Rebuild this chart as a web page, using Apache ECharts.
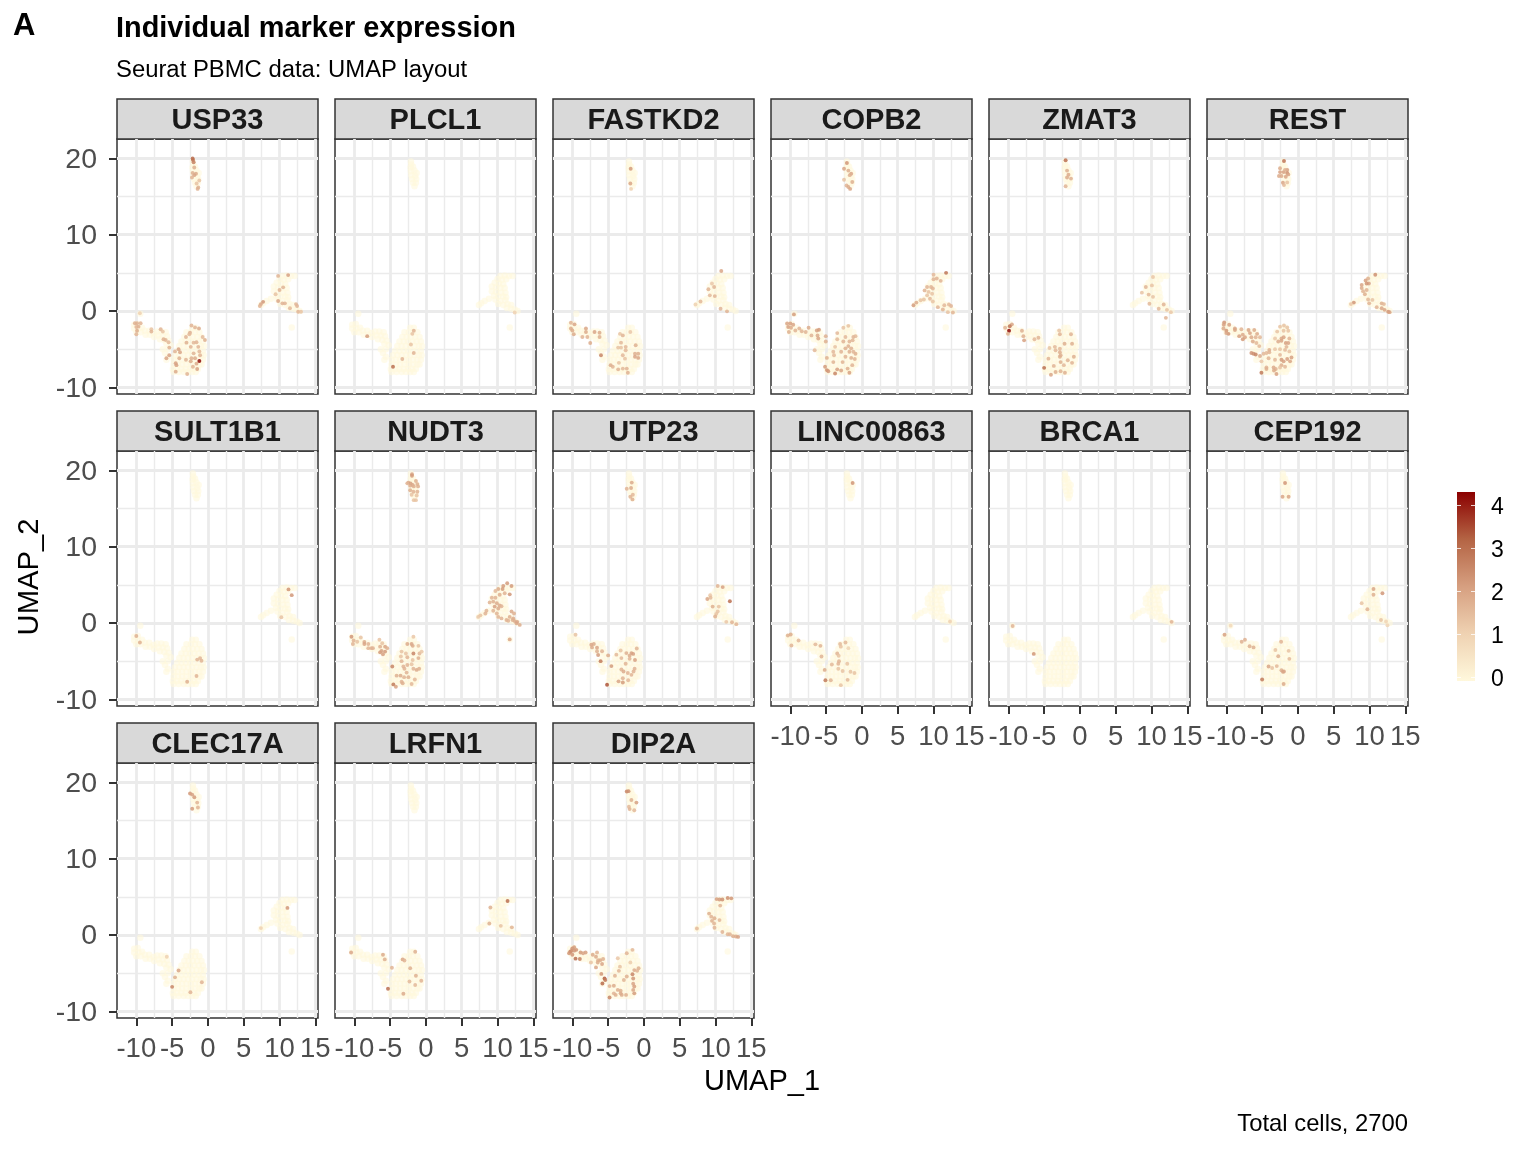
<!DOCTYPE html>
<html>
<head>
<meta charset="utf-8">
<title>Individual marker expression</title>
<script src="https://cdn.jsdelivr.net/npm/echarts@6/dist/echarts.min.js"></script>
<style>
  html, body { margin: 0; background: #fff; }
  #chart { width: 1536px; height: 1152px; }
</style>
</head>
<body>
<div id="chart"></div>
<script>
// every cell of the UMAP layout, drawn pale under each panel
const cellsAll = [
  [-2.1,19.6],[-2.05,19.2],[-2.15,18.8],[-1.8,18.9],[-2.1,18.3],[-1.6,18.4],[-1.3,18.1],[-2.05,17.8],[-1.5,17.7],[-1.35,17.3],[-1.95,17.3],[-1.8,16.8],[-1.4,16.8],[-1.6,16.35],
  [10.4,4.6],[11,4.65],[11.6,4.6],[12.1,4.6],[10,4.2],[10.6,4.1],[11.2,4.15],[9.6,3.7],[10.2,3.6],[10.8,3.5],[9.2,3.2],[9.8,3.1],[10.4,3],[11,3],[9.2,2.6],[9.8,2.5],[10.5,2.4],[11.1,2.4],[9.5,2],[10.1,1.9],[10.8,1.9],[11.2,1.8],[8.8,1.6],[9.7,1.5],[10.4,1.3],[11.1,1.4],[8.2,1.3],[7.7,1],[7.4,.8],[10.1,.9],[10.8,.8],[11.4,.9],[11.9,.8],[11.3,.4],[11.9,.3],[12.4,.2],[12.8,0],[11.7,-2.15],
  [-9.45,-.35],[-10.3,-1.8],[-9.8,-1.7],[-10.3,-2.3],[-9.7,-2.3],[-9.2,-2.2],[-10,-2.8],[-9.4,-2.8],[-8.8,-2.6],[-8.2,-2.6],[-8.7,-3.1],[-8.1,-3.1],[-7.6,-2.9],[-7.1,-2.7],[-6.5,-2.7],[-5.9,-2.8],[-7.5,-3.4],[-6.9,-3.2],[-6.3,-3.2],[-5.7,-3.3],[-6.7,-3.7],[-6.1,-3.8],[-5.5,-3.9],[-5.8,-4.3],[-5.2,-4.5],[-6.3,-5],[-6,-5.5],[-5.6,-5],[-5.6,-6],[-5.8,-6.4],
  [-2.2,-2.2],[-1.7,-2.2],
  [-3,-2.8],[-2.4,-2.8],[-1.8,-2.8],[-1.2,-2.8],
  [-3.3,-3.4],[-2.7,-3.4],[-2.1,-3.4],[-1.5,-3.4],[-.9,-3.4],
  [-3.7,-4],[-3.1,-4],[-2.5,-4],[-1.9,-4],[-1.3,-4],[-.7,-4],
  [-4,-4.6],[-3.4,-4.6],[-2.8,-4.6],[-2.2,-4.6],[-1.6,-4.6],[-1,-4.6],[-.55,-4.6],
  [-4.3,-5.2],[-3.7,-5.2],[-3.1,-5.2],[-2.5,-5.2],[-1.9,-5.2],[-1.3,-5.2],[-.7,-5.2],
  [-4.6,-5.8],[-4,-5.8],[-3.4,-5.8],[-2.8,-5.8],[-2.2,-5.8],[-1.6,-5.8],[-1,-5.8],[-.6,-5.8],
  [-4.8,-6.4],[-4.2,-6.4],[-3.6,-6.4],[-3,-6.4],[-2.4,-6.4],[-1.8,-6.4],[-1.2,-6.4],[-.7,-6.4],
  [-4.8,-7],[-4.2,-7],[-3.6,-7],[-3,-7],[-2.4,-7],[-1.8,-7],[-1.2,-7],[-.9,-7],
  [-4.9,-7.6],[-4.3,-7.6],[-3.7,-7.6],[-3.1,-7.6],[-2.5,-7.6],[-1.9,-7.6],[-1.4,-7.6],
  [-4.8,-8],[-4.1,-8],[-3.4,-8],[-2.8,-8],[-2.2,-8],[-1.7,-8]
]

// expressing cells per gene: [UMAP_1, UMAP_2, expression]
const usp33 = [
  [-2.14,20,3.1],[-2.09,19.8,3],[-2,19.5,2.7],[-1.91,18.8,1.8],[-2.14,18.1,1.8],[-1.67,18,1.9],[-1.91,17.8,2],[-2.23,17.5,1.7],[-1.21,17.1,1.4],[-1.58,16.7,1.4],[-1.35,16.2,1.8],[-1.44,16,1.8],
  [-9.5,-.3,1.1],[-10.2,-1.6,1.8],[-9.9,-1.6,1.8],[-9.4,-1.6,1.7],[-9.7,-2.05,1.8],[-10,-2.1,1.7],[-9.9,-2.6,1.9],[-10,-3.05,1.7],[-7.9,-2.4,1.4],[-7.9,-2.7,1.7],[-6.6,-2.4,1.7],[-6.3,-2.7,1.4],[-6.2,-3.7,1.8],[-5.9,-3.8,1.7],[-5.5,-4.1,1.6],[-5.4,-4.8,1.8],[-5.4,-5.8,2.1],[-5.8,-6.2,2],
  [-2.3,-1.9,1.7],[-1.8,-2.15,1.7],[-1.25,-2.3,1.9],[-2.5,-2.85,1.8],[-3.07,-3.4,1.7],[-2.6,-3.05,1.6],[-.74,-3.4,1.6],[-.42,-3.8,1.8],[-3,-4.15,1.8],[-2,-4.15,1.6],[-1.6,-4.1,1.7],[-2.4,-4.7,1.7],[-1.35,-4.7,1.7],[-4.1,-5,2.1],[-3.9,-5.4,2],[-4.6,-5.3,1.7],[-1.2,-5.3,1.6],[-2,-5.55,1.7],[-4,-6.2,1.8],[-3.07,-6.4,1.7],[-2.3,-6.2,1.8],[-1.8,-6.2,1.9],[-1.1,-5.8,1.7],[-4.5,-6.85,2.1],[-4.4,-7.1,2.1],[-2.4,-6.6,1.9],[-1.6,-6.9,1.9],[-1.2,-6.55,4.2],[-1.5,-7.6,2.1],[-4.5,-7.95,1.9],[-2.9,-8.25,1.7],[-2.1,-7.3,1.7],
  [7.7,1.2,2.3],[7.4,.9,2],[7.25,.65,1.7],[9.8,4.6,1.7],[11.2,4.7,2.1],[10.5,3.1,1.7],[10,2.75,1.7],[9.45,2.2,1.4],[9.8,1.3,2],[10.4,1,1.7],[10.75,1,1.7],[11.45,.35,1.6],[12.3,.9,1.7],[12.45,.65,1.7],[12.6,-.1,1.7],[13,-.1,1.4]
]
const plcl1 = [[-1.7,-2.6,1.7],[-1.9,-3,1.4],[-2.1,-4.4,1.4],[-1.7,-5.5,1.7],[-3.3,-6.3,1.7],[-4.6,-7.3,3],[-8.2,-3.3,2.2],[12.4,-.2,1.1]]
const fastkd2 = [
  [-1.85,18.65,2.2],[-1.9,16.7,2],[-1.8,16,1.1],[10.8,5.25,2],[9.5,3.6,1.3],[9.8,3.15,1.7],[9,2.85,1.7],[9.2,2.05,1.6],[9.9,1.95,1.7],[7.9,1.25,1.6],[7.2,.85,1.1],[10.7,.3,1.7],[11.6,-.05,1.7],
  [-10.2,-1.55,1.7],[-9.7,-1.75,2],[-10.2,-2.3,1.9],[-10,-2.55,1.9],[-9.8,-3.05,1.9],[-8.6,-3.4,1.7],[-8.1,-2.3,2],[-8.1,-2.75,1.9],[-7.9,-3.4,1.7],[-6.9,-2.75,2],[-6.2,-2.85,1.9],[-6.2,-3.4,1.8],[-7.5,-4.2,1.9],[-6,-5.8,2.6],
  [-3.35,-3,1.4],[-2.95,-3.2,1.7],[-1.9,-2.75,1.3],[-3.2,-4.15,1.6],[-3.6,-4.8,1.4],[-3.2,-4.8,1.4],[-2.55,-4.7,1.6],[-2.55,-5.15,1.6],[-1.15,-4.5,1.8],[-2.95,-5.8,1.6],[-1.25,-5.6,1.8],[-.8,-5.6,1.8],[-1.25,-6,2],[-.8,-6.15,2],[-4.65,-7.1,1.9],[-4.35,-7.3,1.7],[-3.6,-7.65,1.7],[-2.95,-7.55,1.6],[-2.4,-7.55,1.7],[-2.25,-8.1,1.8],[-3.5,-6.8,1.4],[-2.65,-6.25,1.4]
]
const copb2 = [
  [-2.1,19.4,2.3],[-2.5,18.65,2],[-1.9,18.4,1.8],[-1.5,18,2],[-1.7,17.8,1.8],[-2.5,17.2,1.4],[-1.35,16.9,1.8],[-2.15,16.45,1.7],[-1.9,16.25,1.9],[-1.65,16,2],
  [11.75,5,2.9],[10,4.75,1.6],[10,4.15,1.7],[10.45,4.25,1.7],[11,3.95,1.7],[9.1,3.15,1.7],[9.65,3.15,1.7],[9.9,2.95,1.7],[8.75,2.7,1.7],[9.3,2.5,1.4],[9.8,2.25,1.4],[9.1,2.05,1.4],[9.5,1.6,1.6],[9.9,1.25,1.4],[8.65,1.5,1.4],[8.2,1.4,1.4],[7.6,1.1,1.9],[7.2,.75,2.2],[10.6,.5,1.7],[11.3,.2,1.7],[12.15,.85,1.6],[12.45,.65,1.7],[12,-.15,1.4],[12.7,-.2,1.7],[11.5,.75,1.6],
  [-9.5,-.45,2.2],[-10.45,-1.65,2],[-10,-1.65,2.1],[-9.6,-1.8,2],[-10.3,-2.1,2.1],[-9.9,-2.2,1.9],[-10.2,-2.75,1.8],[-9.3,-2.55,1.7],[-8.75,-2.3,1.7],[-8.4,-2.65,1.7],[-7.85,-2.75,1.7],[-7.45,-2.2,1.9],[-7.05,-3.2,1.7],[-6.3,-2.55,2.1],[-6,-2.45,2.2],[-6.2,-3.2,1.9],[-6.1,-3.6,2],[-5.05,-3.3,1.8],[-5.05,-4,1.8],[-6.6,-5.15,1.6],
  [-1.9,-1.95,1.4],[-2.6,-2.2,1.4],[-3.45,-2.9,1.6],[-2.3,-3.4,1.6],[-1.2,-3.4,1.7],[-.9,-3.3,1.6],[-3.45,-3.7,1.6],[-2.6,-4,1.7],[-1.75,-4,1.7],[-1.3,-3.85,1.7],[-3.75,-4.7,1.4],[-2.3,-4.9,1.8],[-1.9,-4.6,1.8],[-1.5,-4.9,1.8],[-4,-5.35,1.6],[-2.9,-5.35,1.7],[-1.75,-5.35,1.8],[-.9,-5.6,1.8],[-1.2,-5.35,1.7],[-4.9,-6.15,1.8],[-3.9,-5.8,1.6],[-2.3,-6,1.7],[-1.5,-6.15,1.8],[-1,-6.3,1.7],[-1.35,-7.1,1.7],[-5.15,-7.3,2.2],[-4.9,-7.75,2.4],[-4.7,-7.9,2.3],[-3.75,-8.2,2.6],[-3.45,-7.65,2.1],[-2.9,-7.8,2],[-2,-7.55,1.8],[-1.75,-8.1,2.1],[-4,-6.7,1.7],[-2.7,-6.7,1.7]
]
const zmat3 = [
  [-2,19.75,3],[-1.8,18.4,1.8],[-1.6,17.85,1.9],[-1.8,17.5,1.9],[-1.25,17.35,1.8],[-2,16.35,1.7],
  [10.2,4.45,1.3],[9.2,3.15,1.7],[10.05,3.35,1.4],[8.65,2.4,1.4],[9.6,2.15,1.6],[10.2,1.85,1.4],[9.7,.95,1.6],[11.7,.85,1.7],[11,.3,1.6],[12.15,.15,1.4],[12.7,-.15,1.3],[12,-.9,1.7],
  [-9.5,-1.75,2],[-9.8,-2,2.9],[-10.45,-2.2,1.7],[-9.9,-2.6,4.2],[-10.05,-3,1.8],[-8.1,-2.6,1.8],[-7.9,-3.3,1.8],[-7.8,-3.85,2.1],[-6.35,-3.7,1.6],[-5.8,-3.5,1.7],
  [-2.9,-2.55,1.4],[-2.8,-3.05,1.7],[-1.25,-3.05,1.7],[-4.25,-4.85,1.4],[-3.5,-4.7,1.6],[-2.8,-4.95,1.6],[-2.15,-4.3,1.8],[-1.1,-4.3,1.8],[-4.4,-6.25,1.7],[-2.8,-6,1.8],[-2.7,-5.8,1.8],[-3.4,-5.15,1.6],[-.85,-6,1.8],[-1.7,-6.45,1.7],[-2.25,-7.1,1.6],[-2.7,-6.7,1.8],[-3.65,-7.2,1.7],[-5,-7.45,3],[-4.05,-8.35,2],[-3.4,-8,1.8],[-2.7,-7.9,1.7],[-2.1,-8.1,1.8],[-1.1,-6.8,1.7],[-2.8,-5.4,1.8]
]
const rest = [
  [-1.95,19.65,2.9],[-2.5,18.7,1.9],[-1.5,18.5,2.1],[-2.5,18.2,2.1],[-2,18.2,2.1],[-1.5,18.1,2.4],[-2.65,17.7,1.9],[-2.3,17.7,1.9],[-1.7,17.6,2],[-2.1,16.8,2],[-1.5,16.85,1.4],[-1.95,16.5,1.6],[-1.35,17.9,2],[-1.8,18.5,1.8],
  [10.8,4.75,2.4],[9.8,4.25,1.8],[9.45,4,2.1],[9.9,3.6,2.1],[9.6,3.6,2.3],[8.9,3.4,2],[8.9,3,1.9],[9.6,2.75,1.7],[9.1,2.6,1.7],[9.35,2.2,1.8],[9.8,1.5,1.6],[10.4,1.45,1.4],[9.95,1,1.7],[11,.5,1.7],[11.7,1,1.8],[12,.9,1.6],[11.7,.35,2],[12.1,.15,2],[12.6,-.1,2.3],[12.8,-.15,2.1],[7.8,1.1,2.3],[7.4,.9,1.3],
  [-10.3,-1.5,2.3],[-10.35,-1.8,2.1],[-9.6,-1.8,2.1],[-10.4,-2.3,1.9],[-10,-2.6,2.3],[-9.7,-3,2.3],[-10,-2.9,2],[-8.8,-2.5,2],[-8.8,-2.3,2],[-7.9,-2.4,1.7],[-6.9,-2.5,2],[-6.1,-2.5,1.9],[-6.7,-2.9,2],[-5.7,-3,1.9],[-8.2,-3.3,2.1],[-7.7,-3.1,1.9],[-7.4,-3.45,2],[-7.7,-3.7,2.2],[-6.5,-3.45,1.9],[-5.9,-3.45,1.7],[-5.3,-3.45,1.6],[-6.3,-4,1.9],[-5.8,-4.2,1.6],[-5.4,-4.6,1.6],
  [-6.5,-5.5,2.3],[-6.2,-5.6,2.4],[-5.9,-5.7,2.6],[-5.3,-5.9,1.9],[-4.8,-5.6,1.6],[-4.4,-5.5,1.6],[-4,-5.1,1.8],[-4,-5.4,1.7],
  [-2.5,-2.05,1.4],[-1.95,-1.9,1.4],[-1.5,-2.15,1.4],[-2.9,-2.7,1.4],[-2,-2.6,1.4],[-1.35,-2.6,1.4],[-3.2,-3.6,1.3],[-2.3,-3.6,1.9],[-2,-3.45,2],[-2.75,-4,1.9],[-2.3,-3.9,2],[-1.7,-4.2,2.1],[-1.35,-4.2,2],[-1.2,-3.6,1.7],[-1.6,-4.7,1.7],[-3.2,-5,1.3],[-2.5,-5,1.4],[-1.8,-5.1,1.6],[-1.2,-5.3,1.4],[-4.1,-6.2,1.7],[-3.2,-6.4,1.6],[-2.5,-5.75,1.6],[-2.3,-6.4,2.2],[-2,-6.6,2.1],[-1.5,-6.3,2.1],[-.9,-6.1,2.1],[-1.1,-6.6,2],[-2.3,-7.1,1.8],[-1.8,-7.3,1.6],[-4.4,-7.4,1.7],[-4.4,-7.6,1.8],[-5.1,-8.1,2.8],[-3.4,-7.4,1.9],[-3.1,-7.6,1.8],[-3.35,-7.8,1.9],[-3,-8.25,2.1],[-2.5,-7.4,1.4],[-5.1,-6.6,1.3]
]
const sult1b1 = [[11.25,4.4,2.3],[11.7,3.65,2.3],[10.25,.75,1.4],[-10,-1.7,1.8],[-9.5,-2.55,1.8],[-1.1,-4.6,1.7],[-1.5,-4.8,1.7],[-.9,-4.95,1.7],[-1.6,-6.95,1.7],[-2.9,-7.7,1.8]]
const nudt3 = [
  [-1.95,19.5,2.1],[-1.95,19.3,2.2],[-2.45,18.4,1.9],[-2.15,18.3,2.1],[-1.85,18.1,2],[-1.4,18.6,1.8],[-1.2,18.2,1.8],[-2.2,18,1.9],[-1.7,17.9,1.8],[-1.1,17.9,1.8],[-2.2,17.4,1.8],[-1.75,17.2,1.7],[-1.2,17.2,1.7],[-2,16.8,1.4],[-1.3,16.7,1.4],[-1.7,16.1,1.4],[-1.4,16.1,1.4],[-2.6,18.3,1.7],
  [11.35,5.2,2.2],[11.95,4.85,2.2],[10.8,4.85,2.2],[10.1,4.45,1.9],[10.7,4.45,2.2],[9.7,4.2,1.6],[11.7,3.75,2.3],[11,3.9,1.7],[9.2,3.3,1.7],[9.7,3.3,1.7],[10.3,3.7,1.8],[8.9,2.7,1.7],[9.4,2.8,1.8],[9.9,2.6,1.9],[10.3,2.3,1.9],[9.6,2.15,2.1],[10.1,1.9,1.9],[10.55,2.2,1.7],[8.45,1.6,1.7],[8.3,1.25,1.7],[7.6,1,1.4],[7.3,.8,1.3],[9.9,1.25,1.7],[10.1,.8,1.7],[10.55,.6,1.7],[11.25,.4,1.8],[11.95,1.5,1.9],[12.3,1.25,1.8],[11.7,.8,1.8],[12.2,.6,1.9],[12.4,.25,1.9],[12.75,.15,2],[13.1,-.25,1.9],[12.65,-.05,2],[11.7,-2.15,2],[12.1,.4,1.8],[11.5,.3,1.7],[9.4,1.6,1.7],
  [-10.4,-1.8,2.3],[-10.1,-2.3,1.7],[-10.2,-2.75,1.7],[-9.6,-2.45,1.4],[-9.1,-1.9,1.4],[-8.6,-2.5,1.9],[-8.6,-2.75,2],[-8.05,-2.75,1.7],[-8.05,-3.3,1.7],[-7.6,-3.3,1.8],[-7.4,-3.3,1.7],[-6.5,-2.2,1.4],[-6.1,-2.65,1.4],[-6.4,-3.1,1.8],[-5.7,-3.1,2],[-5.4,-3.3,1.8],[-6.4,-3.85,2.2],[-6,-4.1,2.1],[-5.7,-3.75,2.2],[-6.2,-3.65,2.1],
  [-1.75,-1.8,1.3],[-2.6,-2.75,1.9],[-2,-2.75,2],[-1.85,-3,1.9],[-1.05,-3,1.4],[-3.4,-3.75,1.4],[-2.8,-4,1.4],[-1.75,-4,2.6],[-.9,-4,1.6],[-.6,-3.75,1.3],[-3.5,-4.4,1.4],[-2.6,-4.5,1.7],[-1.85,-4.85,1.4],[-1.05,-4.6,1.8],[-4.7,-5.7,2.6],[-3.4,-5,1.7],[-3.15,-5.7,1.7],[-2.6,-5.5,1.7],[-2,-5.4,1.4],[-1.75,-6,1.7],[-1.3,-6.15,1.9],[-.95,-6,1.8],[-2.7,-6.5,1.7],[-4.1,-6.9,1.8],[-3.55,-6.9,1.9],[-3.05,-7.1,1.7],[-2.45,-7.1,1.8],[-1.55,-7.4,1.6],[-3.4,-7.7,1.7],[-3.25,-7.9,1.8],[-4.55,-8.05,2.8],[-4.2,-8.35,2.1],[-2,-8,1.6],[-3,-6,1.7]
]
const utp23 = [
  [-1.7,18.4,1.9],[-2.4,17.6,1.7],[-1.8,17.7,1.9],[-1.55,16.8,1.6],[-1.9,16.55,1.7],[-1.6,16.2,1.8],
  [10.3,4.85,1.7],[11,4.7,2.1],[9.25,3.65,1.3],[8.85,3.15,2],[9.3,3.3,1.6],[12,2.85,3],[9.6,2.15,1.8],[10.45,2.15,1.4],[10.3,1.5,1.4],[10.1,1.2,1.4],[9.95,.85,1.8],[11.5,.15,1.3],[12.3,.1,1.7],[12.9,-.15,1.7],
  [-9.55,-1.55,1.4],[-7.35,-2.85,2],[-7,-2.75,1.9],[-7.25,-3.2,1.9],[-6.55,-3.25,2],[-5.85,-3.7,1.7],[-6.55,-3.7,1.8],[-6.4,-4.2,2.2],[-6.05,-5,2.8],[-5,-4.25,1.9],
  [-1,-3.35,1.7],[-3.25,-3.6,1.4],[-3.85,-4.15,1.6],[-3.15,-4.6,1.6],[-2.45,-3.95,1.8],[-1.75,-3.95,2.1],[-1.5,-4.05,2.1],[-2,-4.3,1.9],[-2,-4.7,1.7],[-1.25,-4.85,2.1],[-2.55,-5.35,1.7],[-4.55,-5.65,2.2],[-3.15,-6.1,1.7],[-2.85,-6.35,1.9],[-2.25,-6.55,1.7],[-1.75,-6.8,1.7],[-1.3,-6,1.7],[-1.45,-6.35,1.7],[-2.95,-7.25,1.7],[-3.55,-7.65,2],[-2.95,-7.8,2.2],[-2.2,-7.5,1.6],[-5.15,-8.1,3.4]
]
const linc00863 = [
  [-1.3,18.35,2.3],[12.3,.2,1.1],
  [-10.35,-1.65,1.8],[-9.95,-1.5,1.9],[-9.85,-2.95,1.7],[-8.85,-2.3,1.6],[-6.5,-2.8,1.6],[-5.8,-3,1.7],[-5.65,-4.4,1.7],
  [-3.05,-2.75,1.6],[-2.3,-2.55,1.6],[-2.95,-3.1,1.4],[-1.9,-3.3,1],[-3.45,-4,1.7],[-3.25,-4.3,1.4],[-3.2,-5,1.7],[-3.3,-5.35,1.7],[-4.2,-5.45,1.6],[-2.05,-5.35,1.4],[-5.2,-6.15,1.9],[-3.3,-6,1.4],[-2.7,-6.3,1.4],[-2,-7.45,1.6],[-1.6,-6.4,1.4],[-1.05,-6.55,1.4],[-5.1,-7.5,2.8],[-4.35,-7.5,1.7],[-2.95,-8.15,1.4]
]
const brca1 = [[-9.4,-.4,1.7],[-6.45,-4.05,2.3],[12.8,.15,1.7]]
const cep192 = [
  [-1.8,18.35,2.3],[-2.15,16.55,2],[-1.3,16.55,2],
  [10.55,4.45,2],[10.55,3.7,1.8],[11.8,3.9,2.3],[8.9,2.6,1.4],[9.7,1.8,1.7],[11.6,.4,1.4],[12.3,.2,1],[12.5,-.3,1],
  [-10.25,-1.55,2.1],[-9.4,-.35,.9],[-7.85,-2.45,1.8],[-7.4,-2.2,1.8],[-6.75,-3.05,1.8],[-6.2,-3.2,1.8],
  [-2.35,-2.45,1.7],[-3.15,-3.55,1.4],[-1.3,-3.65,1.4],[-2.75,-4.35,1.8],[-1.2,-4.7,1.6],[-4.1,-5.7,2],[-3.6,-5.9,1.4],[-2.95,-5.65,1.6],[-2.3,-6.2,1.8],[-2.1,-6.4,2],[-1.95,-6.35,2],[-5,-7.4,2.8],[-2,-8,1.9]
]
const clec17a = [
  [-2.5,18.55,2.3],[-2.2,18.4,2.1],[-1.9,18.05,2.2],[-1.5,17.35,1.7],[-2.2,16.55,2.2],[-1.4,16.7,1.7],
  [11.1,3.55,2.3],[7.4,.9,1.1],[-5.75,-2.85,1.1],
  [-4.1,-4.65,2],[-4.6,-5.55,1.8],[-5,-6.8,2.6],[-.85,-6.2,1.7],[-2.45,-7.5,1.7]
]
const lrfn1 = [
  [8.85,1.5,1.8],[9,3.6,1.8],[11.4,4.45,3],[10.45,1.2,1.4],[12,1,1.7],
  [-10.45,-2.3,2],[-6,-2.6,1.9],[-5.75,-3.2,1.8],[-4.75,-4.3,1.7],[-3.25,-3.2,2],[-3,-3.35,1.7],[-1.5,-2.2,1.8],[-2.2,-4.35,1.8],[-1.4,-5.35,1.8],[-.65,-6,1.7],[-2.3,-6.1,1.6],[-1.5,-6.55,1.6],[-5.3,-7.05,3],[-3.15,-7.7,1.9]
]
const dip2a = [
  [-2.4,18.8,2.6],[-2.15,18.85,2.4],[-1.75,17.7,1.8],[-1.05,17.35,2.1],[-2.1,16.8,1.6],[-2,16.5,1.7],[-1.35,16.35,1.6],
  [10.15,4.7,2.1],[10.55,4.65,2.2],[10.95,4.65,2.4],[11.7,4.85,2.4],[12.2,4.8,2.3],[10.65,3.85,1.7],[9.1,2.8,1.8],[9.4,2.4,1.7],[9.85,2.2,1.8],[10.55,1.95,1.6],[9.5,1.85,1.8],[9.8,1.5,1.7],[9.85,.95,1.7],[7.4,.85,1.6],[10.95,.4,1.7],[11.7,.1,1.7],[12,.1,1.7],[12.45,-.15,1.9],[12.85,-.2,1.9],[13.15,-.25,2.1],
  [-10.3,-2.2,2.6],[-10,-1.75,2.4],[-9.75,-1.6,2.2],[-9.45,-1.95,2.3],[-9.75,-2.05,2.3],[-10.45,-2.4,2.3],[-10,-2.6,2.3],[-10.15,-2.1,2.4],[-9.55,-3.1,3],[-8.95,-3.15,2.7],[-8.85,-2.3,2.2],[-8.15,-2.3,2.1],[-8.5,-2.4,2],[-7.15,-2.6,1.9],[-6.55,-2.3,1.7],[-6.7,-2.85,1.9],[-7.4,-3.6,1.4],[-6.4,-3.3,1.8],[-6.1,-3.3,1.9],[-5.7,-3.15,1.8],[-6.45,-3.6,1.9],[-5.85,-3.8,2],[-6.7,-4.25,2],[-5.95,-5.1,2.3],[-5.5,-5.7,3.3],[-5.4,-5.9,2.8],[-5.8,-6.35,3.1],
  [-3.65,-3.05,1.3],[-2.4,-2.4,1.7],[-1.6,-1.95,1.6],[-3.35,-4.15,1.4],[-3.5,-4.7,1.7],[-1.9,-3.6,1.2],[-1.35,-4.6,1.9],[-.75,-4.35,1.8],[-.95,-4.7,1.7],[-1.6,-5.15,2.6],[-1.5,-5.7,2.3],[-2.8,-5.9,1.7],[-4.05,-5.35,1.7],[-4.8,-6.7,1.7],[-4.2,-6.65,1.9],[-3.65,-7.2,1.8],[-3.25,-7.3,1.8],[-3.25,-7.65,1.9],[-2.5,-7.85,1.8],[-3.95,-7.85,1.8],[-4.8,-8.2,2.6],[-4.2,-7.65,1.7],[-1.5,-6.4,2],[-1.35,-6.75,2.1],[-1.5,-7.2,2],[-1.35,-7.65,2.2],[-2.4,-5.45,1.8],[-3.1,-7.85,1.9]
]

const geneNames = ['USP33', 'PLCL1', 'FASTKD2', 'COPB2', 'ZMAT3', 'REST', 'SULT1B1', 'NUDT3', 'UTP23', 'LINC00863', 'BRCA1', 'CEP192', 'CLEC17A', 'LRFN1', 'DIP2A']
const geneCells = [usp33, plcl1, fastkd2, copb2, zmat3, rest, sult1b1, nudt3, utp23, linc00863, brca1, cep192, clec17a, lrfn1, dip2a]

const xMajor = [-10, -5, 0, 5, 10, 15]
const xMinor = [-7.5, -2.5, 2.5, 7.5, 12.5]
const yMajor = [-10, 0, 10, 20]
const yMinor = [-5, 5, 15]
const legendTicks = [0, 1, 2, 3, 4]
const legendRange = [[0, 1, -0.09, 4.3]]
const legendColours = ['#FFF8DC', '#EFD2B2', '#D69F80', '#B46444', '#8B0000']

const fontFamily = '"Liberation Sans", Helvetica, Arial, sans-serif'
const panelLeft = [117, 335, 553, 771, 989, 1207]
const panelTop = [139, 451, 763]
const panelW = 201
const panelH = 255
const stripH = 40

const grid = [], xAxis = [], yAxis = [], series = [], graphic = [], exprIndex = []

geneNames.forEach((name, i) => {
  const col = i % 6
  const row = Math.floor(i / 6)
  const showX = row === 2 || (row === 1 && col >= 3)
  const showY = col === 0

  grid.push({
    left: panelLeft[col], top: panelTop[row], width: panelW, height: panelH,
    show: true, backgroundColor: '#fff', borderColor: '#333', borderWidth: 1.5
  })

  const noLine = { show: false, onZero: false }
  const xBase = { type: 'value', gridIndex: i, min: -12.7, max: 15.37, axisLine: noLine }
  const yBase = { type: 'value', gridIndex: i, min: -10.88, max: 22.54, axisLine: noLine }

  xAxis.push({
    ...xBase, position: 'bottom',
    axisTick: { show: showX, customValues: xMajor, length: 8, lineStyle: { color: '#333', width: 2 } },
    axisLabel: { show: showX, customValues: xMajor, margin: 17, color: '#4D4D4D', fontSize: 27.5, fontFamily },
    splitLine: { show: true, lineStyle: { color: '#EBEBEB', width: 2.8 } }
  })
  xAxis.push({
    ...xBase, position: 'top',
    axisTick: { show: false, customValues: xMinor },
    axisLabel: { show: false, customValues: xMinor },
    splitLine: { show: true, lineStyle: { color: '#EBEBEB', width: 1.4 } }
  })
  yAxis.push({
    ...yBase, position: 'left',
    axisTick: { show: showY, customValues: yMajor, length: 8, lineStyle: { color: '#333', width: 2 } },
    axisLabel: {
      show: showY, customValues: yMajor, margin: 20, formatter: '{v|{value}}',
      rich: { v: { padding: [3, 0, 0, 0], color: '#4D4D4D', fontSize: 28.5, fontFamily } }
    },
    splitLine: { show: true, lineStyle: { color: '#EBEBEB', width: 2.8 } }
  })
  yAxis.push({
    ...yBase, position: 'right',
    axisTick: { show: false, customValues: yMinor },
    axisLabel: { show: false, customValues: yMinor },
    splitLine: { show: true, lineStyle: { color: '#EBEBEB', width: 1.4 } }
  })

  series.push({
    type: 'scatter', xAxisIndex: i * 2, yAxisIndex: i * 2, data: cellsAll,
    symbolSize: 6.5, silent: true, itemStyle: { color: legendColours[0], opacity: 0.6 }
  })
  exprIndex.push(series.length)
  series.push({
    type: 'scatter', xAxisIndex: i * 2, yAxisIndex: i * 2, data: geneCells[i],
    symbolSize: 3.9, silent: true, itemStyle: { opacity: 0.85 }
  })

  graphic.push({
    type: 'rect', shape: { x: panelLeft[col], y: panelTop[row] - stripH, width: panelW, height: stripH },
    style: { fill: '#D9D9D9', stroke: '#333', lineWidth: 1.5 }
  })
  graphic.push({
    type: 'text', x: panelLeft[col] + panelW / 2, y: panelTop[row] - stripH / 2 + 2,
    style: { text: name, fill: '#1A1A1A', font: 'bold 29px ' + fontFamily, textAlign: 'center', textVerticalAlign: 'middle' }
  })
})

// colour bar, its own little grid so the ticks land on the values
const barGrid = grid.length
const barAxis = xAxis.length
const barYAxis = yAxis.length
grid.push({ left: 1457, top: 492, width: 18, height: 189 })
xAxis.push({ type: 'value', gridIndex: barGrid, min: 0, max: 1, show: false })
const barY = {
  type: 'value', gridIndex: barGrid, min: -0.09, max: 4.3, z: 5,
  axisLine: { show: false, onZero: false }, splitLine: { show: false },
  axisTick: { customValues: legendTicks, inside: true, length: 4, lineStyle: { color: 'rgba(255,255,255,.8)', width: 1 } }
}
yAxis.push({ ...barY, position: 'left', axisLabel: { show: false, customValues: legendTicks } })
yAxis.push({
  ...barY, position: 'right',
  axisLabel: {
    customValues: legendTicks, margin: 16, formatter: '{v|{value}}',
    rich: { v: { padding: [6, 0, 0, 0], color: '#000', fontSize: 23, fontFamily } }
  }
})
series.push({
  type: 'custom', xAxisIndex: barAxis, yAxisIndex: barYAxis, data: legendRange, silent: true, z: 1,
  encode: { x: [0, 1], y: [2, 3] },
  renderItem: (params, api) => {
    const a = api.coord([api.value(0), api.value(3)])
    const b = api.coord([api.value(1), api.value(2)])
    return {
      type: 'rect',
      shape: { x: a[0], y: a[1], width: b[0] - a[0], height: b[1] - a[1] },
      style: {
        fill: new echarts.graphic.LinearGradient(0, 1, 0, 0,
          legendColours.map((color, k) => ({ offset: k / (legendColours.length - 1), color })))
      }
    }
  }
})

const addText = (text, x, y, font, extra) => {
  graphic.push({
    type: 'text', x, y, rotation: extra && extra.rotation || 0,
    style: { text, fill: '#000', font: font + ' ' + fontFamily, textAlign: extra && extra.align || 'left', textVerticalAlign: 'middle' }
  })
}
addText('A', 13, 26, 'bold 31px')
addText('Individual marker expression', 116, 29, 'bold 28.9px')
addText('Seurat PBMC data: UMAP layout', 116, 70, '23.85px')
addText('UMAP_1', 762, 1082, '29px', { align: 'center' })
addText('UMAP_2', 30, 577, '29.2px', { align: 'center', rotation: Math.PI / 2 })
addText('Total cells, 2700', 1408, 1124, '23.8px', { align: 'right' })

const chart = echarts.init(document.getElementById('chart'), null, { renderer: 'canvas' })
chart.setOption({
  animation: false,
  backgroundColor: '#fff',
  grid, xAxis, yAxis, series,
  graphic: { elements: graphic },
  visualMap: {
    show: false, type: 'continuous', seriesIndex: exprIndex, dimension: 2,
    min: 0, max: 4.3, inRange: { color: legendColours }
  }
})
</script>
</body>
</html>
